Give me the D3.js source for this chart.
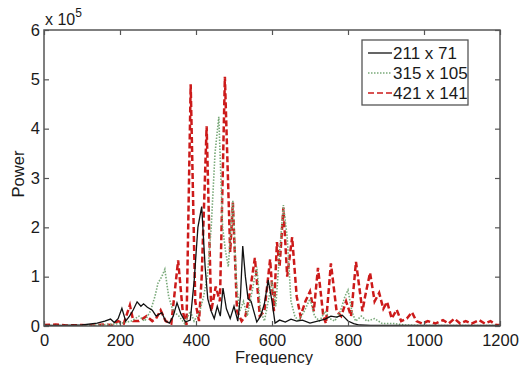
<!DOCTYPE html>
<html>
<head>
<meta charset="utf-8">
<script src="https://cdn.jsdelivr.net/npm/d3@7"></script>
<style>
  body { margin: 0; background: #fff; }
  svg { display: block; font-family: "Liberation Sans", Arial, sans-serif; }
</style>
</head>
<body>
<svg id="chart" width="524" height="365"></svg>
<script>
// power values are in units of 1e5
const seriesNames = ["211 x 71", "315 x 105", "421 x 141"];

const blackFreq  = [0, 50, 100, 140, 160, 175, 185, 195, 205, 215, 225, 235, 245, 255, 262, 272, 285, 295, 310, 320, 330, 340, 350, 360, 372, 385, 395, 405, 415, 424, 431, 440, 448, 456, 464, 471, 480, 490, 500, 510, 517, 523, 530, 537, 545, 552, 560, 570, 580, 590, 600, 608, 620, 635, 650, 665, 680, 700, 720, 740, 755, 770, 785, 800, 815, 830, 860, 900, 1000, 1200];
const blackPower = [0.01, 0.01, 0.02, 0.06, 0.1, 0.14, 0.07, 0.15, 0.36, 0.1, 0.2, 0.33, 0.49, 0.4, 0.45, 0.38, 0.32, 0.2, 0.27, 0.1, 0.06, 0.2, 0.47, 0.25, 0.08, 0.12, 0.9, 2.0, 2.42, 1.2, 0.55, 0.3, 0.15, 0.4, 0.2, 0.77, 0.35, 0.15, 0.4, 0.1, 0.6, 1.62, 1.0, 0.55, 0.5, 0.3, 0.08, 0.2, 0.45, 0.93, 0.5, 0.06, 0.12, 0.08, 0.14, 0.1, 0.12, 0.06, 0.1, 0.14, 0.2, 0.18, 0.22, 0.1, 0.05, 0.02, 0.01, 0.01, 0.01, 0.01];

const greenFreq  = [0, 100, 150, 200, 230, 250, 265, 280, 292, 300, 310, 318, 328, 340, 355, 370, 385, 395, 410, 420, 430, 440, 450, 460, 470, 478, 485, 497, 507, 515, 525, 535, 545, 560, 570, 580, 590, 600, 610, 620, 630, 640, 650, 660, 670, 685, 700, 712, 725, 740, 752, 765, 780, 792, 800, 810, 820, 835, 850, 870, 890, 920, 950, 1000, 1200];
const greenPower = [0.01, 0.01, 0.02, 0.05, 0.1, 0.2, 0.1, 0.3, 0.6, 0.87, 1.0, 1.15, 0.6, 0.3, 0.2, 0.05, 0.3, 0.1, 0.3, 0.6, 1.0, 2.0, 3.5, 4.24, 2.0, 1.5, 1.2, 2.55, 0.8, 0.3, 0.5, 0.2, 0.6, 1.2, 0.3, 0.1, 0.5, 0.9, 0.4, 1.5, 2.45, 1.8, 0.5, 0.2, 0.1, 0.3, 0.55, 0.2, 0.1, 0.3, 0.15, 0.1, 0.3, 0.6, 0.73, 0.3, 0.1, 0.2, 0.1, 0.15, 0.05, 0.05, 0.02, 0.01, 0.01];

const redFreq  = [0, 30, 60, 100, 130, 160, 180, 195, 210, 226, 235, 250, 270, 285, 295, 307, 320, 335, 353, 365, 375, 386, 398, 408, 415, 428, 440, 452, 463, 476, 490, 497, 508, 520, 530, 540, 555, 568, 580, 595, 605, 613, 620, 630, 640, 653, 665, 675, 688, 700, 710, 721, 735, 742, 755, 770, 782, 795, 808, 821, 838, 845, 858, 870, 882, 893, 903, 915, 928, 940, 955, 968, 980, 995, 1010, 1030, 1050, 1065, 1080, 1095, 1110, 1125, 1145, 1160, 1175, 1190, 1200];
const redPower = [0.02, 0.03, 0.01, 0.02, 0.01, 0.03, 0.02, 0.1, 0.05, 0.42, 0.1, 0.1, 0.2, 0.1, 0.15, 0.32, 0.1, 0.05, 1.33, 0.3, 0.02, 4.9, 0.5, 0.1, 1.0, 4.05, 0.3, 0.8, 0.5, 5.05, 1.5, 2.5, 0.3, 0.1, 0.2, 0.6, 1.38, 0.2, 0.3, 1.35, 0.3, 1.7, 1.2, 2.4, 1.0, 1.8, 0.6, 0.2, 0.5, 0.7, 0.3, 1.18, 0.2, 0.05, 1.27, 0.3, 0.2, 0.5, 0.2, 1.3, 0.3, 0.6, 1.08, 0.5, 0.67, 0.35, 0.49, 0.15, 0.33, 0.1, 0.15, 0.28, 0.1, 0.05, 0.1, 0.05, 0.12, 0.05, 0.15, 0.05, 0.1, 0.05, 0.12, 0.05, 0.1, 0.02, 0.02];

const xTicks = [0, 200, 400, 600, 800, 1000, 1200];
const yTicks = [0, 1, 2, 3, 4, 5, 6];

const svg = d3.select("#chart");
const margin = { left: 44, right: 24, top: 30, bottom: 39 };
const width = 524 - margin.left - margin.right,
    height = 365 - margin.top - margin.bottom;

const x = d3.scaleLinear().domain([0, 1200]).range([margin.left, margin.left + width]);
const y = d3.scaleLinear().domain([0, 6]).range([margin.top + height, margin.top]);

const axisColor = "#555";
const textColor = "#1a1a1a";

// clip so lines stay inside the axes box
svg.append("defs").append("clipPath").attr("id", "clip")
  .append("rect")
  .attr("x", margin.left).attr("y", margin.top)
  .attr("width", width).attr("height", height);

const line = d3.line()
  .x(d => x(d[0]))
  .y(d => y(d[1]));

const series = [
  { freq: redFreq, power: redPower, color: "#cc1a1a", width: 2.5, dash: "6,3" },
  { freq: greenFreq, power: greenPower, color: "#79a979", width: 1.6, dash: "1.5,1.5" },
  { freq: blackFreq, power: blackPower, color: "#111", width: 1.3, dash: null }
];

const plot = svg.append("g").attr("clip-path", "url(#clip)");
series.forEach(s => {
  plot.append("path")
    .datum(d3.zip(s.freq, s.power))
    .attr("fill", "none")
    .attr("stroke", s.color)
    .attr("stroke-width", s.width)
    .attr("stroke-dasharray", s.dash)
    .attr("d", line);
});

// axes (MATLAB style: inward ticks on all four sides)
const xAxisB = d3.axisBottom(x).tickValues(xTicks).tickSize(-5).tickPadding(8).tickFormat(d3.format("d"));
const xAxisT = d3.axisTop(x).tickValues(xTicks).tickSize(-5).tickFormat("");
const yAxisL = d3.axisLeft(y).tickValues(yTicks).tickSize(-5).tickPadding(4).tickFormat(d3.format("d"));
const yAxisR = d3.axisRight(y).tickValues(yTicks).tickSize(-5).tickFormat("");

function styleAxis(g) {
  g.select(".domain").attr("stroke", axisColor).attr("stroke-width", 1.5);
  g.selectAll(".tick line").attr("stroke", axisColor).attr("stroke-width", 1.2);
  g.selectAll(".tick text").attr("fill", textColor).attr("font-size", 16.5);
}

svg.append("g").attr("transform", `translate(0,${margin.top + height})`).call(xAxisB).call(styleAxis);
svg.append("g").attr("transform", `translate(0,${margin.top})`).call(xAxisT).call(styleAxis);
svg.append("g").attr("transform", `translate(${margin.left},0)`).call(yAxisL).call(styleAxis);
svg.append("g").attr("transform", `translate(${margin.left + width},0)`).call(yAxisR).call(styleAxis);

svg.selectAll(".domain").attr("d", null);
svg.append("rect")
  .attr("x", margin.left).attr("y", margin.top)
  .attr("width", width).attr("height", height)
  .attr("fill", "none").attr("stroke", axisColor).attr("stroke-width", 1.5);

// exponent label
const expo = svg.append("text").attr("x", 45).attr("y", 25).attr("font-size", 16).attr("fill", textColor);
expo.append("tspan").text("x 10");
expo.append("tspan").attr("dy", -8).attr("font-size", 12).text("5");

// axis titles
svg.append("text")
  .attr("x", margin.left + width / 2 + 2).attr("y", 363)
  .attr("text-anchor", "middle").attr("font-size", 16.5).attr("fill", textColor)
  .text("Frequency");
svg.append("text")
  .attr("transform", `translate(24,${margin.top + height / 2 - 4}) rotate(-90)`)
  .attr("text-anchor", "middle").attr("font-size", 16.5).attr("fill", textColor)
  .text("Power");

// legend
const legend = svg.append("g");
legend.append("rect")
  .attr("x", 362).attr("y", 40).attr("width", 106).attr("height", 65)
  .attr("fill", "#fff").attr("stroke", axisColor).attr("stroke-width", 1.3);
const legendSeries = [series[2], series[1], series[0]];
legendSeries.forEach((s, i) => {
  const ly = 53 + i * 20;
  legend.append("line")
    .attr("x1", 368).attr("x2", 392).attr("y1", ly).attr("y2", ly)
    .attr("stroke", s.color).attr("stroke-width", s === series[0] ? 1.3 : s.width)
    .attr("stroke-dasharray", s.dash);
  legend.append("text")
    .attr("x", 393).attr("y", ly + 6)
    .attr("font-size", 17).attr("fill", textColor)
    .text(seriesNames[i]);
});
</script>
</body>
</html>
